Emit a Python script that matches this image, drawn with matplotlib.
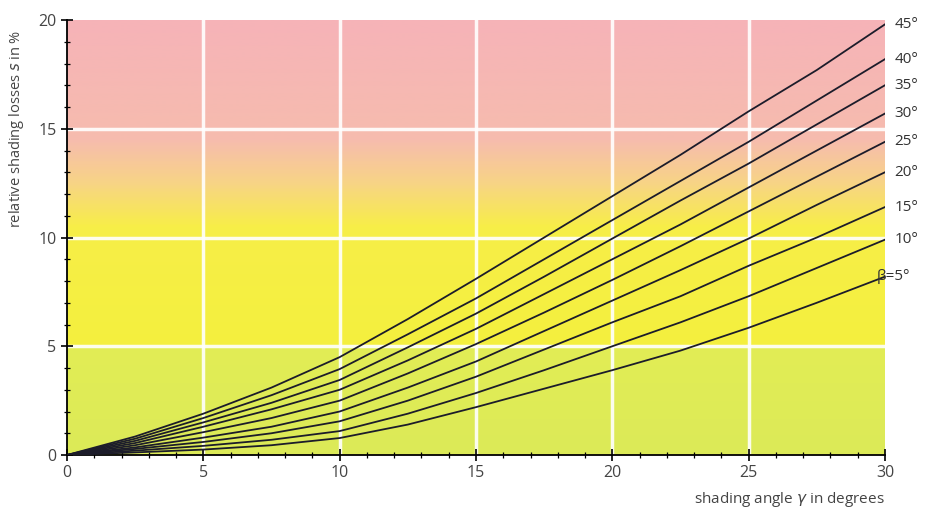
import numpy as np
import matplotlib
matplotlib.use("Agg")
import matplotlib.pyplot as plt
from matplotlib.colors import LinearSegmentedColormap

plt.rcParams['font.family'] = ['Open Sans', 'DejaVu Sans']

# shading angle gamma (degrees)
gamma = [0, 2.5, 5, 7.5, 10, 12.5, 15, 17.5, 20, 22.5, 25, 27.5, 30]

# relative shading losses (%) for each tilt angle beta
loss_45 = [0, 0.85, 1.9, 3.1, 4.5, 6.25, 8.1, 10.0, 11.9, 13.8, 15.8, 17.7, 19.8]
loss_40 = [0, 0.75, 1.7, 2.75, 3.95, 5.55, 7.2, 9.0, 10.8, 12.6, 14.4, 16.3, 18.2]
loss_35 = [0, 0.65, 1.5, 2.4, 3.45, 4.95, 6.5, 8.2, 9.95, 11.7, 13.4, 15.2, 17.0]
loss_30 = [0, 0.55, 1.3, 2.1, 3.0, 4.35, 5.8, 7.4, 9.0, 10.6, 12.3, 14.0, 15.7]
loss_25 = [0, 0.45, 1.05, 1.7, 2.5, 3.75, 5.1, 6.55, 8.05, 9.6, 11.2, 12.8, 14.4]
loss_20 = [0, 0.35, 0.8, 1.3, 2.0, 3.1, 4.3, 5.7, 7.1, 8.5, 9.95, 11.5, 13.0]
loss_15 = [0, 0.28, 0.6, 1.0, 1.55, 2.5, 3.6, 4.85, 6.1, 7.3, 8.7, 10.0, 11.4]
loss_10 = [0, 0.2, 0.42, 0.7, 1.1, 1.9, 2.85, 3.9, 5.0, 6.1, 7.3, 8.6, 9.9]
loss_5 = [0, 0.12, 0.25, 0.45, 0.78, 1.4, 2.2, 3.05, 3.9, 4.8, 5.85, 7.0, 8.2]

curves = [loss_45, loss_40, loss_35, loss_30, loss_25, loss_20, loss_15, loss_10, loss_5]
labels = ["45°", "40°", "35°", "30°", "25°", "20°", "15°", "10°", "β=5°"]

fig = plt.figure(figsize=(9.29, 5.17), dpi=100)
ax = fig.add_axes([0.0721, 0.1199, 0.8805, 0.8414])

# Hintergrund: Farbverlauf gruen -> gelb -> rosa
stops = [
    (0.0, "#dcea58"),
    (4.9 / 20, "#e2ed55"),
    (5.0 / 20, "#f4f03e"),
    (10.5 / 20, "#f7ee48"),
    (12.5 / 20, "#f8d486"),
    (14.5 / 20, "#f6bcae"),
    (1.0, "#f6b3b8"),
]
cmap = LinearSegmentedColormap.from_list("bg", stops)
grad = np.linspace(0, 1, 400).reshape(-1, 1)
ax.imshow(grad, cmap=cmap, aspect="auto", extent=[0, 30, 0, 20],
          origin="lower", zorder=0)

# Gitterlinien (weiss)
for gx in [5, 10, 15, 20, 25]:
    ax.axvline(gx, color="white", lw=2.5, alpha=0.9, zorder=1)
for gy in [5, 10, 15]:
    ax.axhline(gy, color="white", lw=2.5, alpha=0.9, zorder=1)

# Kurven
for vals in curves:
    ax.plot(gamma, vals, color="#1c1c2a", lw=1.3, zorder=3)

# Beschriftung der Kurven
for vals, lab in zip(curves, labels):
    xpos = 29.7 if lab.startswith("β") else 30.35
    ax.text(xpos, vals[-1], lab, fontsize=11, color="#333333",
            va="center", ha="left", clip_on=False)

ax.set_xlim(0, 30)
ax.set_ylim(0, 20)
ax.set_xticks(range(0, 31, 5))
ax.set_yticks(range(0, 21, 5))
ax.set_xticks(range(0, 31), minor=True)
ax.set_yticks(range(0, 21), minor=True)
ax.tick_params(which="major", direction="inout", length=8, width=1.2,
               labelsize=11.5, labelcolor="#444444")
ax.tick_params(which="minor", direction="inout", length=4, width=0.9)

for s in ["top", "right"]:
    ax.spines[s].set_visible(False)
for s in ["left", "bottom"]:
    ax.spines[s].set_linewidth(1.3)

ax.set_ylabel("relative shading losses $s$ in %", fontsize=10.5,
              color="#444444")
ax.yaxis.set_label_coords(-0.05, 0.75)

fig.text(0.9526, 0.015, "shading angle $\\gamma$ in degrees", fontsize=11,
         color="#444444", ha="right", va="bottom")

fig.savefig("out.png", dpi=100)
